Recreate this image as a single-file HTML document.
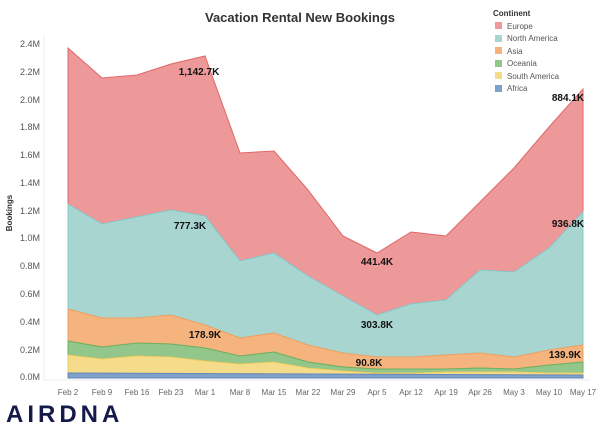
<!DOCTYPE html>
<html><head><style>
body{margin:0;background:#fff;width:600px;height:430px;overflow:hidden;font-family:"Liberation Sans",sans-serif}
</style></head><body>
<svg width="600" height="430" xmlns="http://www.w3.org/2000/svg" font-family="Liberation Sans, sans-serif">
<text x="300" y="22" text-anchor="middle" font-size="13" font-weight="bold" fill="#333">Vacation Rental New Bookings</text>
<g font-size="9" fill="#555" text-anchor="end">
<text x="40" y="47">2.4M</text><text x="40" y="75">2.2M</text><text x="40" y="103">2.0M</text><text x="40" y="130">1.8M</text><text x="40" y="158">1.6M</text><text x="40" y="186">1.4M</text><text x="40" y="214">1.2M</text><text x="40" y="241">1.0M</text><text x="40" y="269">0.8M</text><text x="40" y="297">0.6M</text><text x="40" y="325">0.4M</text><text x="40" y="353">0.2M</text><text x="40" y="380">0.0M</text>
</g>
<text transform="translate(12,213) rotate(-90)" font-size="8" font-weight="bold" fill="#333" text-anchor="middle">Bookings</text>
<line x1="44" y1="35" x2="44" y2="380" stroke="#eee"/>
<line x1="44" y1="380" x2="590" y2="380" stroke="#eee"/>
<g stroke-width="1">
<polygon fill="#ee9999" stroke="#e06666" points="68,48 102,78 137,75 171,64 205,56 240,153 274,151 308,190 343,236 377,253 411,232 446,236 480,202 514,168 549,127 583,89 583,212 549,248 514,272 480,270 446,300 411,304 377,315 343,296 308,276 274,253 240,261 205,216 171,210 137,217 102,224 68,204"/>
<polygon fill="#a9d5d1" stroke="#7fcfd0" points="68,204 102,224 137,217 171,210 205,216 240,261 274,253 308,276 343,296 377,315 411,304 446,300 480,270 514,272 549,248 583,212 583,345 549,350 514,357 480,353 446,355 411,357 377,357 343,353 308,345 274,333 240,338 205,325 171,315 137,318 102,318 68,309"/>
<polygon fill="#f5b47e" stroke="#f0a060" points="68,309 102,318 137,318 171,315 205,325 240,338 274,333 308,345 343,353 377,357 411,357 446,355 480,353 514,357 549,350 583,345 583,362 549,365 514,369 480,368 446,369 411,369 377,369 343,367 308,362 274,352 240,356 205,348 171,344 137,343 102,347 68,341"/>
<polygon fill="#92c68b" stroke="#6bb060" points="68,341 102,347 137,343 171,344 205,348 240,356 274,352 308,362 343,367 377,369 411,369 446,369 480,368 514,369 549,365 583,362 583,373 549,373 514,372 480,372 446,372 411,373 377,373 343,371 308,368 274,362 240,364 205,361 171,357 137,356 102,359 68,355"/>
<polygon fill="#f5dc8a" stroke="#eecc60" points="68,355 102,359 137,356 171,357 205,361 240,364 274,362 308,368 343,371 377,373 411,373 446,372 480,372 514,372 549,373 583,373 583,375 68,373"/>
<polygon fill="#7fa0c8" stroke="#6688bb" points="68,373 583,375 583,378 68,378"/>
</g>
<g font-size="10" font-weight="bold" fill="#111" text-anchor="middle">
<text x="199" y="75">1,142.7K</text><text x="568" y="101">884.1K</text>
<text x="190" y="229">777.3K</text><text x="568" y="227">936.8K</text>
<text x="377" y="265">441.4K</text><text x="377" y="328">303.8K</text>
<text x="205" y="338">178.9K</text><text x="565" y="358">139.9K</text>
<text x="369" y="366">90.8K</text>
</g>
<g font-size="8" fill="#666" text-anchor="middle">
<text x="68" y="395">Feb 2</text><text x="102" y="395">Feb 9</text><text x="137" y="395">Feb 16</text><text x="171" y="395">Feb 23</text><text x="205" y="395">Mar 1</text><text x="240" y="395">Mar 8</text><text x="274" y="395">Mar 15</text><text x="308" y="395">Mar 22</text><text x="343" y="395">Mar 29</text><text x="377" y="395">Apr 5</text><text x="411" y="395">Apr 12</text><text x="446" y="395">Apr 19</text><text x="480" y="395">Apr 26</text><text x="514" y="395">May 3</text><text x="549" y="395">May 10</text><text x="583" y="395">May 17</text>
</g>
<text x="493" y="16" font-size="8" font-weight="bold" fill="#333">Continent</text>
<g font-size="8" fill="#555">
<rect x="495" y="22" width="7" height="7" fill="#ee9999"/><text x="507" y="29">Europe</text>
<rect x="495" y="35" width="7" height="7" fill="#a9d5d1"/><text x="507" y="41">North America</text>
<rect x="495" y="47" width="7" height="7" fill="#f5b47e"/><text x="507" y="54">Asia</text>
<rect x="495" y="60" width="7" height="7" fill="#92c68b"/><text x="507" y="66">Oceania</text>
<rect x="495" y="72" width="7" height="7" fill="#f5dc8a"/><text x="507" y="79">South America</text>
<rect x="495" y="85" width="7" height="7" fill="#7fa0c8"/><text x="507" y="91">Africa</text>
</g>
<text x="6" y="422" font-size="24" font-weight="bold" fill="#141a4a" letter-spacing="4">AIRDNA</text>
</svg>
</body></html>
